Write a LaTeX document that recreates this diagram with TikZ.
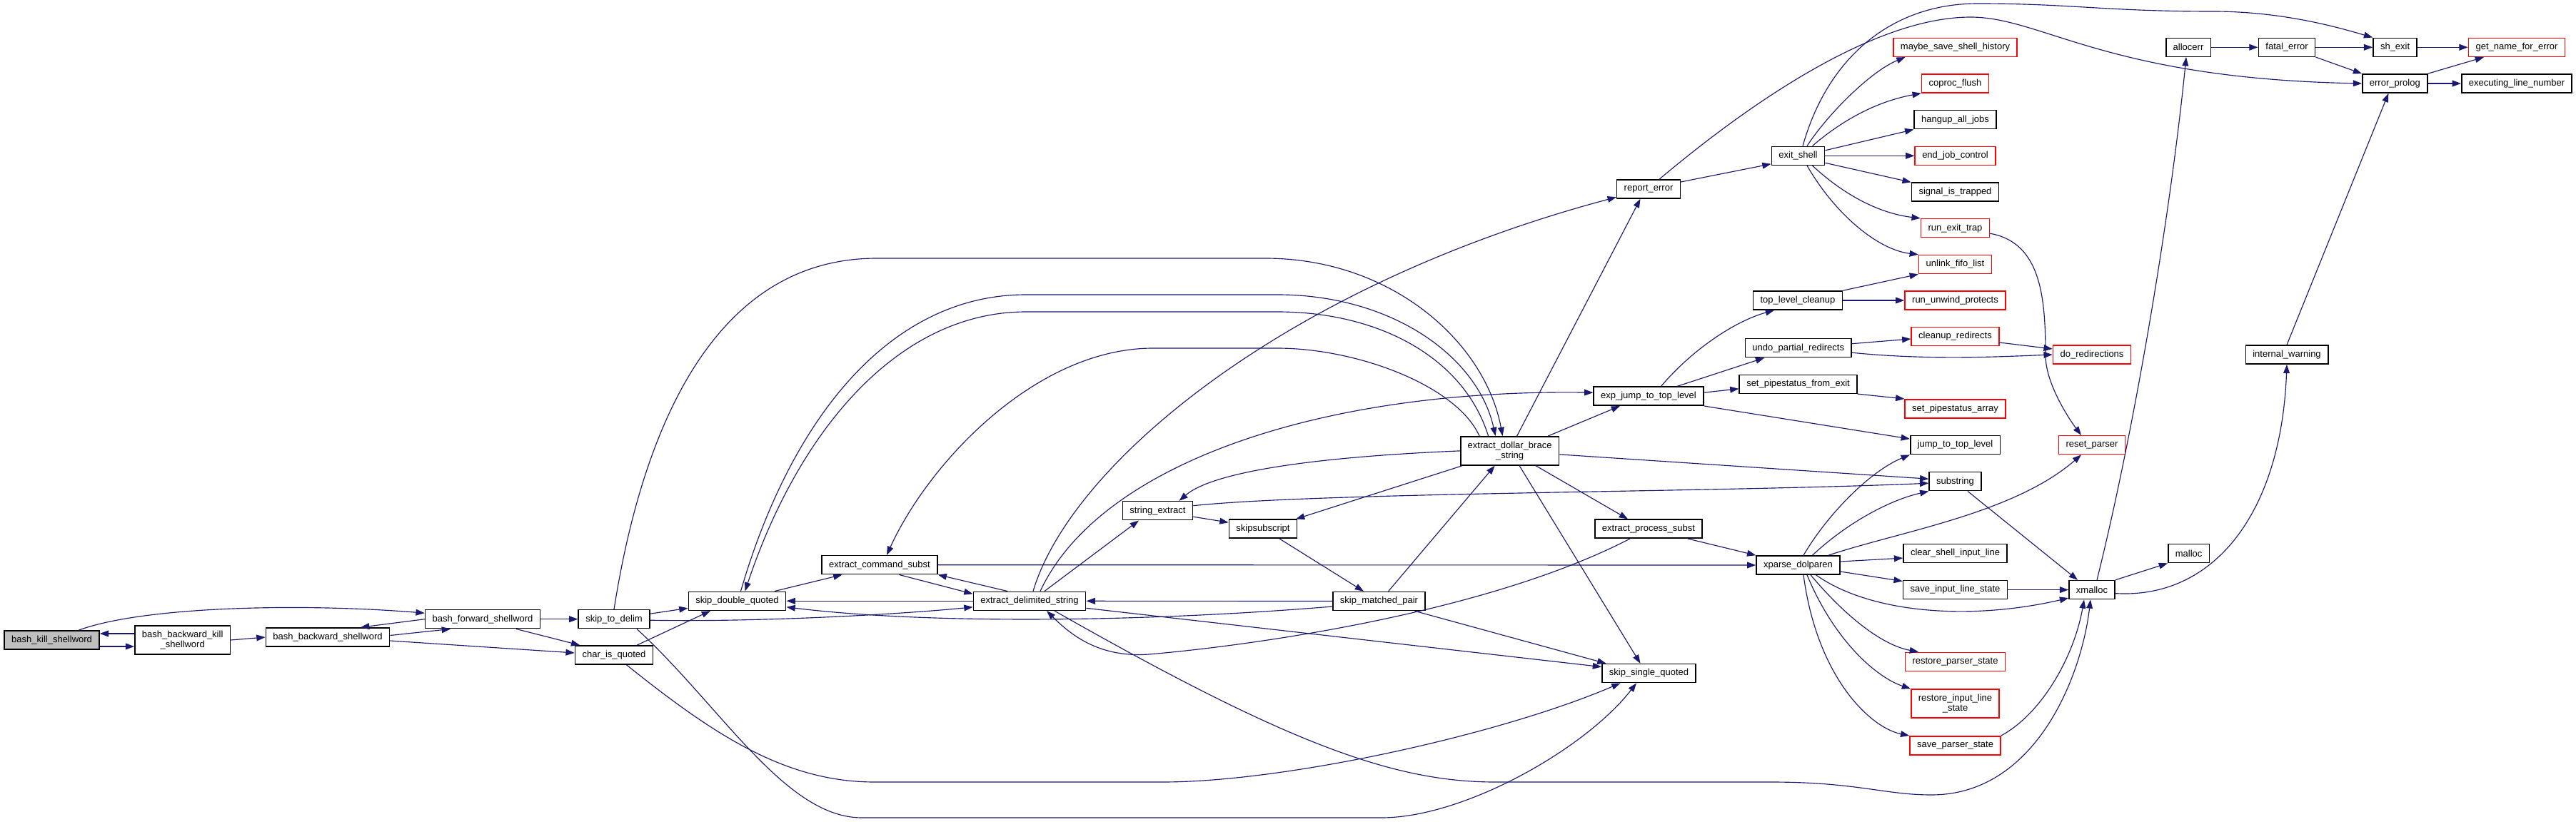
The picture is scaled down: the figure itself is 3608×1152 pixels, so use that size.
\documentclass[tikz,border=0pt]{standalone}
\usepackage{fontspec}
\setmainfont{Liberation Sans}
\usetikzlibrary{arrows.meta}
\definecolor{edgeblue}{HTML}{191970}
\definecolor{boxred}{HTML}{FF0000}
\definecolor{rootgrey}{HTML}{BFBFBF}

\begin{document}
\begin{tikzpicture}[>={Triangle[length=7pt,width=5pt]}, x=0.02cm, y=-0.02cm,
  fn/.style={draw=black, line width=0.9pt, fill=white, minimum height=0.52cm, inner xsep=0.2cm,
    inner ysep=0pt, align=center, font=\fontsize{7.4}{8.2}\selectfont},
  fnred/.style={fn, draw=boxred},
  twoline/.style={minimum height=0.8cm},
  call/.style={->, draw=edgeblue, line width=0.65pt}]
  \fill[white] (0,0) rectangle (3608,1152);
  \useasboundingbox (0,0) rectangle (3608,1152);
  % ---------------------------------------------------------------- functions, left to right
  \node[fn, fill=rootgrey] (kill) at (72.6,897) {bash\_kill\_shellword};
  \node[fn, twoline] (bkill) at (255.7,897) {bash\_backward\_kill\\\_shellword};
  \node[fn] (bback) at (459,893) {bash\_backward\_shellword};
  \node[fn] (bfwd) at (676,867.7) {bash\_forward\_shellword};
  \node[fn] (skipdelim) at (860,867.7) {skip\_to\_delim};
  \node[fn] (charq) at (860,918) {char\_is\_quoted};
  \node[fn] (skipdq) at (1032.5,842.3) {skip\_double\_quoted};
  \node[fn] (ecmd) at (1232,791.7) {extract\_command\_subst};
  \node[fn] (edelim) at (1442,842.3) {extract\_delimited\_string};
  \node[fn] (strext) at (1621.5,715.7) {string\_extract};
  \node[fn] (skipsub) at (1769,741.2) {skipsubscript};
  \node[fn] (skipmp) at (1931.5,842.5) {skip\_matched\_pair};
  \node[fn, twoline] (edbs) at (2114.6,631.9) {extract\_dollar\_brace\\\_string};
  \node[fn] (reperr) at (2309,265) {report\_error};
  \node[fn] (expjump) at (2309,555.2) {exp\_jump\_to\_top\_level};
  \node[fn] (eproc) at (2309,741.2) {extract\_process\_subst};
  \node[fn] (skipsq) at (2309.5,943.6) {skip\_single\_quoted};
  \node[fn] (exitsh) at (2518.5,218.3) {exit\_shell};
  \node[fn] (tlclean) at (2518,421) {top\_level\_cleanup};
  \node[fn] (undopr) at (2518.7,487.7) {undo\_partial\_redirects};
  \node[fn] (setpsx) at (2518.5,538.3) {set\_pipestatus\_from\_exit};
  \node[fn] (xparse) at (2518.5,792) {xparse\_dolparen};
  % the long column of callees
  \node[fnred] (maybe) at (2738.5,66.3) {maybe\_save\_shell\_history};
  \node[fnred] (coproc) at (2738.5,117) {coproc\_flush};
  \node[fn] (hangup) at (2738.5,167.7) {hangup\_all\_jobs};
  \node[fnred] (endjob) at (2738.5,218.3) {end\_job\_control};
  \node[fn] (sigtrap) at (2738.5,269.2) {signal\_is\_trapped};
  \node[fnred] (runexit) at (2738.5,319.7) {run\_exit\_trap};
  \node[fnred] (unlink) at (2738.5,370.5) {unlink\_fifo\_list};
  \node[fnred] (runuw) at (2738.5,421) {run\_unwind\_protects};
  \node[fnred] (cleanr) at (2738.5,471.5) {cleanup\_redirects};
  \node[fnred] (setpsa) at (2738.5,572.8) {set\_pipestatus\_array};
  \node[fn] (jumptl) at (2738.5,623.6) {jump\_to\_top\_level};
  \node[fn] (substr) at (2738.5,674.7) {substring};
  \node[fn] (clearsil) at (2738.5,775.6) {clear\_shell\_input\_line};
  \node[fn] (saveils) at (2738.5,826.6) {save\_input\_line\_state};
  \node[fnred] (restps) at (2738.5,927.3) {restore\_parser\_state};
  \node[fnred, twoline] (restils) at (2738.5,986) {restore\_input\_line\\\_state};
  \node[fnred] (saveps) at (2738.5,1044.8) {save\_parser\_state};
  % right part
  \node[fnred] (doredir) at (2930,497) {do\_redirections};
  \node[fnred] (resetp) at (2930,623.6) {reset\_parser};
  \node[fn] (xmalloc) at (2930,826.6) {xmalloc};
  \node[fn] (allocerr) at (3065,66.3) {allocerr};
  \node[fn] (malloc) at (3065.6,775.6) {malloc};
  \node[fn] (fatal) at (3203,66.3) {fatal\_error};
  \node[fn] (intwarn) at (3203,497) {internal\_warning};
  \node[fn] (shexit) at (3354.6,66.3) {sh\_exit};
  \node[fn] (errprolog) at (3354.3,117) {error\_prolog};
  \node[fnred] (getname) at (3525,66.3) {get\_name\_for\_error};
  \node[fn] (execline) at (3525,117) {executing\_line\_number};

  % ---------------------------------------------------------------- calls among the shell-word commands
  \draw[call] ([yshift=-0.18cm]kill.east) -- ([yshift=-0.18cm]bkill.west);
  \draw[call] ([yshift=0.18cm]bkill.west) -- ([yshift=0.18cm]kill.east);
  \draw[call] ([xshift=0.75cm]kill.north) .. controls (200,850) and (420,845) .. ([yshift=0.17cm]bfwd.west);
  \draw[call] (bkill.east) -- (bback.west);
  \draw[call] ([yshift=0.05cm]bback.east) -- ([xshift=-0.9cm]bfwd.south);
  \draw[call] (bfwd.west) -- ([xshift=0.92cm]bback.north);
  \draw[call] (bfwd.east) -- (skipdelim.west);
  \draw[call] ([xshift=0.94cm]bfwd.south) -- ([xshift=0.15cm]charq.north west);
  \draw[call] ([yshift=-0.1cm]bback.east) -- ([yshift=0.06cm]charq.west);
  % ---------------------------------------------------------------- quoting and delimiters
  \draw[call] ([yshift=0.15cm]skipdelim.east) -- ([yshift=-0.2cm]skipdq.west);
  \draw[call] ([xshift=0.64cm]charq.north) -- ([xshift=-0.75cm]skipdq.south);
  \draw[call] ([yshift=-0.03cm]skipdelim.east) .. controls (1050,872) and (1250,862) .. ([yshift=-0.17cm]edelim.west);
  \draw[call] (skipdelim.north) .. controls (900,600) and (1000,362) .. (1228,362) -- (1772,362)
    .. controls (1950,362) and (2080,480) .. ([xshift=-0.2cm]edbs.north);
  \draw[call] ([xshift=0.1cm]skipdq.north) .. controls (1110,580) and (1250,413) .. (1437,413) -- (1789,413)
    .. controls (1950,413) and (2070,500) .. ([xshift=-0.4cm]edbs.north);
  \draw[call] ([xshift=-0.6cm]edbs.north) .. controls (2050,500) and (1930,437) .. (1789,437) -- (1437,437)
    .. controls (1260,437) and (1120,600) .. ([xshift=0.22cm]skipdq.north);
  \draw[call] ([xshift=-0.85cm]edbs.north) .. controls (2040,540) and (1900,488) .. (1789,488) -- (1615,488)
    .. controls (1450,488) and (1300,650) .. ([xshift=0.2cm]ecmd.north);
  \draw[call] ([xshift=1.05cm]skipdq.north) -- ([xshift=-1.05cm]ecmd.south);
  \draw[call] ([xshift=0.55cm]ecmd.south) -- ([yshift=0.2cm]edelim.west);
  \draw[call] ([xshift=-0.62cm]edelim.north) -- (ecmd.south east);
  \draw[call] (edelim.west) -- (skipdq.east);
  \draw[call] (skipmp.west) -- (edelim.east);
  \draw[call] ([yshift=-0.15cm]skipmp.west) .. controls (1600,872) and (1300,875) .. ([yshift=-0.17cm]skipdq.east);
  \draw[call] ([yshift=-0.2cm]edelim.east) -- ([yshift=0.18cm]skipsq.west);
  \draw[call] ([xshift=0.42cm]edelim.north) -- ([xshift=-0.53cm]strext.south);
  \draw[call] ([xshift=0.1cm]edelim.north) .. controls (1500,650) and (1800,400) .. ([yshift=0.05cm]reperr.south west);
  \draw[call] ([xshift=0.3cm]edelim.north) .. controls (1540,650) and (1850,545) .. ([yshift=0.1cm]expjump.west);
  \draw[call] ([xshift=-0.52cm]eproc.south) .. controls (2080,860) and (1750,905) .. (1609,917)
    .. controls (1540,922) and (1500,890) .. ([xshift=0.48cm]edelim.south);
  \draw[call] ([xshift=0.7cm]edelim.south) .. controls (1800,1040) and (1950,1096) .. (2094,1096) -- (2480,1096)
    .. controls (2600,1096) and (2640,1114) .. (2705,1114)
    .. controls (2850,1114) and (2915,950) .. ([xshift=-0.04cm]xmalloc.south);
  \draw[call] ([xshift=0.35cm]charq.south) .. controls (1000,1030) and (1100,1096) .. (1225,1096) -- (1628,1096)
    .. controls (1800,1096) and (2100,1030) .. ([xshift=-0.8cm]skipsq.south);
  \draw[call] ([xshift=0.64cm]skipdelim.south) .. controls (1010,990) and (1100,1146) .. (1207,1146) -- (1935,1146)
    .. controls (2050,1146) and (2220,1050) .. ([xshift=-0.35cm]skipsq.south);
  % ---------------------------------------------------------------- extract_dollar_brace_string and friends
  \draw[call] (edbs.west) .. controls (1850,640) and (1700,660) .. ([xshift=0.6cm]strext.north);
  \draw[call] ([yshift=0.14cm]strext.east) .. controls (1850,690) and (2400,690) .. ([yshift=-0.05cm]substr.west);
  \draw[call] ([yshift=-0.17cm]strext.east) -- ([yshift=0.18cm]skipsub.west);
  \draw[call] ([xshift=-1.33cm]edbs.south) -- ([xshift=0.92cm]skipsub.north);
  \draw[call] ([xshift=0.46cm]skipsub.south) -- ([xshift=-0.43cm]skipmp.north);
  \draw[call] ([xshift=0.26cm]skipmp.north) -- ([xshift=-0.42cm]edbs.south);
  \draw[call] ([xshift=0.27cm]edbs.south) -- ([xshift=-0.24cm]skipsq.north);
  \draw[call] ([xshift=0.73cm]edbs.south) -- ([xshift=-0.58cm]eproc.north);
  \draw[call] ([yshift=-0.1cm]edbs.east) -- ([yshift=0.07cm]substr.west);
  \draw[call] ([xshift=0.2cm]edbs.north) -- ([xshift=-0.23cm]reperr.south);
  \draw[call] ([xshift=1.07cm]edbs.north) -- ([xshift=-0.8cm]expjump.south);
  \draw[call] ([xshift=1cm]skipmp.south) -- ([xshift=-1.2cm]skipsq.north);
  \draw[call] ([xshift=1.1cm]eproc.south) -- (xparse.north west);
  \draw[call] (ecmd.east) -- (xparse.west);
  % ---------------------------------------------------------------- errors and exit
  \draw[call] ([yshift=0.2cm]reperr.east) -- ([yshift=-0.23cm]exitsh.west);
  \draw[call] ([xshift=0.3cm]reperr.north) .. controls (2480,120) and (2640,24) .. (2760,24)
    .. controls (2860,24) and (2950,110) .. (errprolog.west);
  \draw[call] ([xshift=0.13cm]exitsh.north) .. controls (2560,80) and (2650,5) .. (2770,5)
    .. controls (2900,5) and (2950,16) .. (3100,16) .. controls (3200,16) and (3280,40) .. (shexit.north west);
  \draw[call] ([xshift=0.25cm]exitsh.north) .. controls (2560,160) and (2620,100) .. ([xshift=-1.4cm]maybe.south);
  \draw[call] ([xshift=0.4cm]exitsh.north) .. controls (2590,160) and (2640,140) .. (coproc.south west);
  \draw[call] ([yshift=0.15cm]exitsh.east) -- (hangup.south west);
  \draw[call] (exitsh.east) -- (endjob.west);
  \draw[call] ([yshift=-0.2cm]exitsh.east) -- (sigtrap.north west);
  \draw[call] ([xshift=0.4cm]exitsh.south) .. controls (2590,280) and (2640,300) .. (runexit.north west);
  \draw[call] ([xshift=0.25cm]exitsh.south) .. controls (2570,300) and (2630,350) .. (unlink.north west);
  \draw[call] (tlclean.north east) -- (unlink.south west);
  \draw[call] (tlclean.east) -- (runuw.west);
  \draw[call] ([xshift=0.35cm]expjump.north) .. controls (2370,490) and (2430,450) .. ([xshift=-0.66cm]tlclean.south);
  \draw[call] ([xshift=0.8cm]expjump.north) -- ([xshift=-0.95cm]undopr.south);
  \draw[call] ([yshift=0.1cm]expjump.east) -- ([yshift=-0.13cm]setpsx.west);
  \draw[call] (expjump.south east) -- ([yshift=0.17cm]jumptl.west);
  \draw[call] ([yshift=0.12cm]undopr.east) -- ([yshift=-0.07cm]cleanr.west);
  \draw[call] ([yshift=-0.13cm]undopr.east) .. controls (2700,505) and (2800,500) .. (doredir.west);
  \draw[call] ([yshift=-0.17cm]cleanr.east) -- ([yshift=0.16cm]doredir.west);
  \draw[call] (setpsx.south east) -- (setpsa.north west);
  \draw[call] ([yshift=-0.15cm]runexit.east) .. controls (2860,340) and (2865,420) .. (2865,500)
    .. controls (2866,540) and (2900,590) .. ([xshift=-0.3cm]resetp.north);
  % ---------------------------------------------------------------- xparse_dolparen and memory
  \draw[call] ([xshift=0.15cm]xparse.north) .. controls (2560,720) and (2620,660) .. (jumptl.south west);
  \draw[call] ([xshift=0.4cm]xparse.north) .. controls (2590,730) and (2650,700) .. (substr.south west);
  \draw[call] ([xshift=0.85cm]xparse.north) .. controls (2660,745) and (2820,720) .. ([xshift=-0.3cm]resetp.south);
  \draw[call] ([yshift=0.1cm]xparse.east) -- ([yshift=-0.13cm]clearsil.west);
  \draw[call] ([yshift=-0.18cm]xparse.east) -- ([yshift=0.24cm]saveils.west);
  \draw[call] ([xshift=0.5cm]xparse.south) .. controls (2620,860) and (2760,870) .. ([yshift=-0.23cm]xmalloc.west);
  \draw[call] ([xshift=0.35cm]xparse.south) .. controls (2590,870) and (2640,905) .. ([xshift=-1.03cm]restps.north);
  \draw[call] ([xshift=0.25cm]xparse.south) .. controls (2570,900) and (2630,950) .. (restils.north west);
  \draw[call] ([xshift=0.15cm]xparse.south) .. controls (2545,950) and (2620,1020) .. (saveps.north west);
  \draw[call] ([xshift=0.35cm]substr.south) -- ([xshift=-0.4cm]xmalloc.north);
  \draw[call] (saveils.east) -- (xmalloc.west);
  \draw[call] (saveps.north east) .. controls (2860,1000) and (2905,920) .. ([xshift=-0.22cm]xmalloc.south);
  \draw[call] ([xshift=0.14cm]xmalloc.north) .. controls (2990,600) and (3040,300) .. ([xshift=-0.06cm]allocerr.south);
  \draw[call] (xmalloc.north east) -- (malloc.south west);
  \draw[call] ([yshift=-0.1cm]xmalloc.east) .. controls (3100,840) and (3195,720) .. (intwarn.south);
  \draw[call] (intwarn.north) -- ([xshift=-0.18cm]errprolog.south);
  \draw[call] (allocerr.east) -- (fatal.west);
  \draw[call] (fatal.east) -- (shexit.west);
  \draw[call] (fatal.south east) -- (errprolog.north west);
  \draw[call] (shexit.east) -- (getname.west);
  \draw[call] (errprolog.north east) -- ([xshift=-0.92cm]getname.south);
  \draw[call] (errprolog.east) -- (execline.west);
\end{tikzpicture}
\end{document}
